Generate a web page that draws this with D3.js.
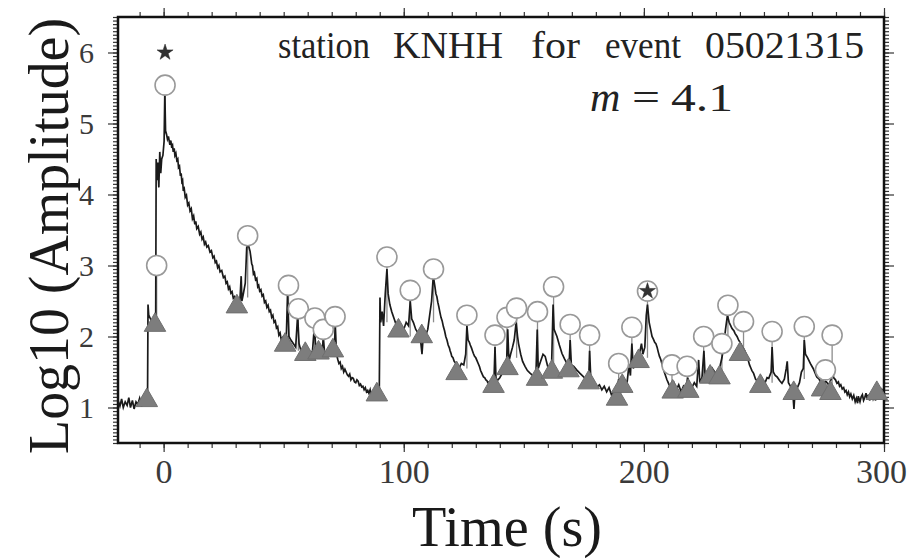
<!DOCTYPE html>
<html>
<head>
<meta charset="utf-8">
<script src="https://cdn.jsdelivr.net/npm/d3@7"></script>
<style>
  html, body { margin: 0; padding: 0; background: #fff; }
  svg { display: block; }
  text { font-family: "Liberation Serif", "Times New Roman", serif; }
</style>
</head>
<body>
<svg id="chart" width="909" height="558"></svg>
<script>
// ---------------- data ----------------
const xTicks = [0, 100, 200, 300];
const yTicks = [1, 2, 3, 4, 5, 6];

// envelope trace: [time (s), log10 amplitude]
const tracePts = [
  [-19,1.1],[-18.2,1.02],[-17.5,1.12],[-16.8,1.0],[-16,1.08],[-15.2,1.03],[-14.5,1.14],[-13.8,1.0],[-13,1.1],[-12.3,0.98],[-11.5,1.08],[-10.8,1.04],[-10,1.13],[-9.2,1.01],[-8.5,1.1],[-7.8,1.05],[-7,1.1],
  [-6.7,1.12],[-6.5,2.45],[-6.2,2.3],[-5.5,2.25],[-4.8,2.2],[-4.2,2.12],[-3.6,2.18],[-3.3,2.3],[-3.1,4.5],[-2.8,4.2],[-2.4,4.45],[-2,4.1],[-1.6,4.6],[-1.2,4.3],[-0.8,4.5],[-0.3,4.55],[0.2,4.75],[0.5,5.45],[0.8,4.9],
  [1.2,4.85],[1.6,4.78],[2,4.82],[2.6,4.7],[3,4.76],[3.3,4.68],[3.7,4.7],[4,4.6],[4.4,4.65],[4.7,4.55],[5.1,4.58],[5.5,4.48],[5.9,4.5],[6.2,4.38],[6.6,4.4],[7,4.26],[7.3,4.3],[7.6,4.18],[7.9,4.2],[8.2,4.05],[8.6,4.08],[9,3.96],[9.5,3.99],[10,3.85],[10.5,3.88],[11,3.77],[11.5,3.8],[12,3.66],[12.5,3.7],[13,3.58],[13.4,3.62],[13.8,3.52],[14.4,3.55],[15,3.44],[15.5,3.47],[16,3.37],[16.5,3.4],[17,3.3],[17.5,3.33],[18,3.26],[18.6,3.28],[19.3,3.19],[19.9,3.21],[20.5,3.11],[21,3.13],[21.5,3.04],[22,3.06],[22.5,2.97],[23,3.0],[23.5,2.91],[24.2,2.93],[24.9,2.83],[25.5,2.85],[26,2.75],[26.5,2.77],[27,2.67],[27.5,2.7],[28,2.61],[28.5,2.63],[29,2.54],[29.5,2.56],[30,2.49],[30.5,2.5],[31,2.45],
  [31.8,2.52],[32.3,2.85],[32.6,2.5],[33.2,2.6],[34,2.75],[34.6,3.25],[35.2,3.3],[36,3.2],[36.4,3.1],[36.7,3.02],[37,3.0],[37.4,2.88],[37.8,2.9],[38.3,2.8],[38.8,2.82],[39.2,2.7],[39.6,2.72],[40,2.64],[40.5,2.66],[41,2.57],[41.5,2.59],[42,2.48],[42.5,2.5],[43,2.41],[43.5,2.44],[44,2.35],[44.5,2.37],[45,2.27],[45.5,2.3],[46,2.2],[46.5,2.22],[47,2.12],[47.5,2.14],[48,2.02],[48.5,2.05],[49,1.95],[49.5,1.98],[50,1.9],[51,1.88],
  [51.6,2.6],[52.2,2.0],[53,1.95],[54,1.9],[55,1.85],[55.8,2.3],[56.4,1.9],[57,1.82],[58,1.75],[59,1.7],[60,1.78],[61,1.72],[62,1.8],[62.8,2.15],[63.4,1.8],[64,1.72],[65,1.8],[66,1.75],[66.5,2.0],[67,1.78],[68,1.72],[69,1.8],[70,1.74],[71,1.8],[71.5,2.15],
  [72,1.75],[72.5,1.68],[73,1.62],[73.5,1.64],[74,1.55],[74.5,1.58],[75,1.5],[75.5,1.54],[76,1.5],[76.5,1.46],[77,1.44],[77.5,1.47],[78,1.39],[78.5,1.42],[79,1.41],[79.5,1.36],[80,1.35],[80.5,1.39],[81,1.37],[81.5,1.31],[82,1.33],[82.5,1.29],[83,1.3],[83.5,1.25],[84,1.28],[84.5,1.22],[85,1.24],[85.5,1.2],[86,1.25],[86.5,1.17],[87,1.2],[87.5,1.15],[88,1.2],[88.5,1.14],[89,1.17],[89.8,1.16],
  [90.1,2.55],[90.4,2.2],[91,2.35],[91.6,2.15],[92.3,2.6],[93,2.95],[93.5,2.6],[94.2,2.45],[95,2.35],[96,2.25],[97,2.15],[98,2.08],[99,2.15],[100,2.1],[101,2.2],[102,2.15],[102.7,2.5],[103.3,2.25],[104,2.2],[105,2.1],[106,2.05],[107,1.95],[107.6,1.75],[108.2,2.05],[109,2.0],[110,2.1],[110.8,2.3],[111.6,2.5],[112.3,2.85],
  [113,2.7],[113.4,2.6],[113.8,2.56],[114.2,2.48],[114.6,2.42],[115,2.35],[115.5,2.27],[116,2.22],[116.5,2.14],[117,2.08],[117.5,2.0],[118,1.95],[118.5,1.88],[119,1.84],[119.3,1.8],[119.7,1.76],[120,1.72],[120.5,1.7],[121,1.65],[121.5,1.63],[122,1.6],[123,1.55],[124,1.62],[125,1.6],[125.8,1.75],[126.3,2.15],[126.8,1.95],[127.3,1.92],[127.7,1.88],[128.2,1.84],[128.6,1.8],[129,1.76],[129.5,1.72],[130,1.7],[130.5,1.66],[131,1.62],[131.5,1.58],[132,1.52],[132.4,1.49],[132.8,1.46],[133.2,1.43],[133.7,1.42],[134.2,1.39],[134.6,1.38],[135,1.35],[135.5,1.36],[136,1.33],[136.5,1.32],[137,1.3],
  [137.6,1.4],[138,1.85],[138.4,1.42],[139,1.38],[140,1.42],[141,1.48],[142,1.52],[142.8,1.6],[143.3,2.1],[143.8,1.65],[144.5,1.75],[145.3,1.85],[146,1.95],[146.8,2.2],[147.4,2.0],[147.8,1.9],[148.7,1.75],[149.5,1.65],[150.5,1.58],[151.5,1.52],[152.7,1.48],[153.8,1.45],[155,1.4],[155.6,2.1],[156,1.55],[157,1.65],[158,1.75],[158.9,1.72],[159.8,1.6],[160.5,1.52],[161.5,1.5],[162.2,2.45],[162.6,2.1],[163.2,2.05],[163.8,2.0],[164.8,1.88],[165.9,1.76],[167,1.68],[168,1.62],[168.8,1.55],[169.3,1.95],[169.8,1.6],[170.8,1.58],[172,1.53],[173.4,1.48],[174.9,1.43],[176,1.4],[177,1.36],[177.4,1.8],[177.9,1.4],[179,1.35],[180.5,1.29],[181.5,1.32],[182.5,1.25],[183.5,1.3],[184.5,1.22],[185.5,1.28],[186.5,1.18],[187.5,1.22],[188.5,1.12],[189.5,1.4],[190.2,1.2],[191,1.3],[192,1.38],[193,1.35],[193.8,1.6],[194.4,1.45],[195,1.9],[195.6,1.55],[196.5,1.65],[197.5,1.7],[198.3,1.78],[199,1.9],[199.6,1.75],[200.4,1.85],[201,2.3],[201.5,2.45],[202.2,2.2],
  [202.8,2.1],[203.4,2.0],[204,1.96],[204.5,1.92],[205,1.9],[205.5,1.85],[206,1.78],[206.5,1.72],[207,1.68],[207.5,1.62],[208,1.56],[208.5,1.5],[209,1.45],[209.6,1.39],[210,1.36],[210.5,1.32],
  [211.5,1.28],[212.5,1.35],[213.5,1.25],[214.5,1.32],[215.5,1.22],[216.5,1.3],[217.5,1.26],[218.3,1.42],[219,1.3],[220,1.28],[221,1.35],[222,1.3],[222.8,1.67],[223.3,1.35],[224.2,1.42],[225,1.8],[225.5,1.45],[226.5,1.5],[227.5,1.45],[228.5,1.55],[229.5,1.5],[230.5,1.48],[231.5,1.55],[232.5,1.7],[233.2,1.85],[234,2.1],[234.8,2.3],[235.5,2.2],
  [236.2,2.15],[236.6,2.12],[237,2.1],[237.5,2.08],[238,2.04],[238.4,2.02],[238.8,2.0],[239.2,1.97],[239.5,1.95],[240,1.92],[240.3,1.9],[240.7,1.88],[241,1.85],[241.5,1.83],[242,1.8],[242.5,1.76],[243,1.72],[243.5,1.66],[244,1.6],[244.5,1.56],[245,1.52],[245.7,1.48],[246.1,1.44],[246.5,1.4],[247,1.38],[247.5,1.36],[248,1.33],[248.5,1.32],
  [249.5,1.38],[250.5,1.35],[251.3,1.42],[252,1.41],[253,1.5],[253.4,1.85],[253.9,1.5],[254.7,1.45],[255.5,1.43],[256.5,1.38],[257.5,1.34],[258.5,1.4],[259.3,1.55],[259.7,1.65],[260.2,1.35],[261,1.3],[262,1.22],[262.5,0.98],[263,1.25],[263.8,1.27],[264.8,1.35],[265.6,1.5],[266.4,1.55],[266.8,1.95],[267.3,1.75],[268.2,1.7],[269.3,1.62],[270.5,1.55],[272,1.43],[273,1.4],[274,1.32],[275,1.36],[276,1.36],[277,1.32],[278,1.4],[278.5,1.55],[279,1.42],
  [279.8,1.39],[280.4,1.34],[281,1.36],[281.5,1.3],[282,1.32],[282.6,1.26],[283.2,1.28],[283.7,1.22],[284.2,1.24],[284.7,1.18],[285.2,1.22],[285.7,1.15],[286.2,1.19],[286.8,1.12],[287.4,1.17],[288,1.08],[288.5,1.13],[289,1.06],[289.3,1.16],[290,1.08],[290.5,1.15],[291,1.18],[291.5,1.1],[292,1.14],[292.5,1.2],[293,1.12],[293.5,1.18],[294,1.1],[294.5,1.16],[295,1.2],[295.5,1.12],[296,1.16],[296.5,1.1],[297,1.2],[297.6,1.14],[298,1.18],[298.6,1.12],[299.2,1.25],[300,1.2]
];

// picked onsets (triangles)
const onsetT = [-7,-3.6,30.5,50.6,59,64.5,70.5,88.8,97.8,107.5,122,137.4,143.2,155.5,161.7,168.6,177,188.8,191,197.8,212,218.5,227.6,231.5,240,248.5,262.4,274.2,277.7,297];
const onsetV = [1.1,2.16,2.42,1.88,1.75,1.77,1.8,1.18,2.08,2.0,1.48,1.3,1.55,1.4,1.5,1.52,1.35,1.12,1.3,1.65,1.22,1.23,1.43,1.42,1.75,1.3,1.2,1.25,1.2,1.2];

// picked peaks (circles) and the level their stems drop to
const peakT = [-2.9,0.6,35,52,56.1,63,66.5,71.4,93,102.7,112.4,126.3,138,143,147,155.7,162.4,169.3,177.4,189.5,195,201.5,211.7,218,224.9,232.5,235,241.5,253.4,266.8,275.6,278.4];
const peakV = [3.0,5.54,3.42,2.72,2.39,2.26,2.1,2.28,3.12,2.65,2.95,2.3,2.02,2.27,2.4,2.35,2.7,2.17,2.02,1.62,2.13,2.64,1.6,1.58,2.0,1.9,2.44,2.21,2.07,2.14,1.53,2.02];
const peakBase = [2.14,4.85,2.55,1.9,1.8,1.75,1.78,1.78,2.2,2.0,2.2,1.55,1.3,1.55,1.7,1.4,1.5,1.52,1.35,1.15,1.65,1.7,1.25,1.25,1.45,1.45,1.8,1.75,1.35,1.4,1.25,1.25];

// largest-event markers (stars)
const starT = [0.6, 201.5];
const starV = [6.0, 2.64];

// text
const titleWords = ["station", "KNHH", "for", "event", "05021315"];
const magLabel = ["m", "=", "4.1"];
const xLabel = "Time (s)";
const yLabel = "Log10 (Amplitude)";

// ---------------- drawing ----------------
const svg = d3.select("#chart");
const L = 118, R = 884, T = 17, B = 443;
const x = d3.scaleLinear().domain([-19, 300]).range([L, R]);
const y = d3.scaleLinear().domain([0.5, 6.5]).range([B, T]);

const xMinor = d3.range(-10, 301, 10);
const yMinor = d3.range(0.5, 6.5001, 0.05).map(v => +v.toFixed(2));

const tickCol = "#333";
function styleAxis(g) {
  g.select(".domain").remove();
  g.selectAll(".tick line").attr("stroke", tickCol).attr("stroke-width", 1.2);
}

// minor ticks
svg.append("g").attr("transform", `translate(0,${B})`)
  .call(d3.axisBottom(x).tickValues(xMinor).tickSize(5).tickFormat("")).call(styleAxis);
svg.append("g").attr("transform", `translate(0,${T})`)
  .call(d3.axisTop(x).tickValues(xMinor).tickSize(5).tickFormat("")).call(styleAxis);
svg.append("g").attr("transform", `translate(${L},0)`)
  .call(d3.axisLeft(y).tickValues(yMinor).tickSize(5).tickFormat("")).call(styleAxis);
svg.append("g").attr("transform", `translate(${R},0)`)
  .call(d3.axisRight(y).tickValues(yMinor).tickSize(5).tickFormat("")).call(styleAxis);

// major ticks + labels
const gx = svg.append("g").attr("transform", `translate(0,${B})`)
  .call(d3.axisBottom(x).tickValues(xTicks).tickSize(9).tickPadding(7).tickFormat(d3.format("d")))
  .call(styleAxis);
gx.selectAll("text").attr("font-size", 34).attr("fill", "#3a3a3a")
  .attr("font-family", "Liberation Serif");
gx.selectAll(".tick").filter(d => d === 300).select("text").attr("dx", -3);
svg.append("g").attr("transform", `translate(0,${T})`)
  .call(d3.axisTop(x).tickValues(xTicks).tickSize(9).tickFormat("")).call(styleAxis);
const gy = svg.append("g").attr("transform", `translate(${L},0)`)
  .call(d3.axisLeft(y).tickValues(yTicks).tickSize(10).tickPadding(14).tickFormat(d3.format("d")))
  .call(styleAxis);
gy.selectAll("text").attr("font-size", 30).attr("fill", "#3a3a3a")
  .attr("font-family", "Liberation Serif");
svg.append("g").attr("transform", `translate(${R},0)`)
  .call(d3.axisRight(y).tickValues(yTicks).tickSize(10).tickFormat("")).call(styleAxis);

// plot frame
svg.append("rect").attr("x", L).attr("y", T).attr("width", R - L).attr("height", B - T)
  .attr("fill", "none").attr("stroke", "#111").attr("stroke-width", 2.5);

const plot = svg.append("g");

// stems from peaks down to the trace
plot.selectAll("line.stem").data(peakT).join("line").attr("class", "stem")
  .attr("x1", d => x(d)).attr("x2", d => x(d))
  .attr("y1", (d, i) => y(peakV[i])).attr("y2", (d, i) => y(peakBase[i]))
  .attr("stroke", "#8c8c8c").attr("stroke-width", 1.3);

// trace
plot.append("path").datum(tracePts)
  .attr("d", d3.line().x(d => x(d[0])).y(d => y(d[1])))
  .attr("fill", "none").attr("stroke", "#1a1a1a").attr("stroke-width", 1.7)
  .attr("stroke-linejoin", "miter");

// onset triangles
plot.selectAll("path.tri").data(onsetT).join("path").attr("class", "tri")
  .attr("transform", (d, i) => `translate(${x(d)},${y(onsetV[i])})`)
  .attr("d", d3.symbol(d3.symbolTriangle, 200))
  .attr("fill", "#7d7d7d").attr("stroke", "#6f6f6f").attr("stroke-width", 1);

// peak circles
plot.selectAll("circle.pk").data(peakT).join("circle").attr("class", "pk")
  .attr("cx", d => x(d)).attr("cy", (d, i) => y(peakV[i])).attr("r", 10)
  .attr("fill", "#fff").attr("stroke", "#999").attr("stroke-width", 1.6);

// stars
plot.selectAll("path.star").data(starT).join("path").attr("class", "star")
  .attr("transform", (d, i) => `translate(${x(d)},${y(starV[i])})`)
  .attr("d", d3.symbol(d3.symbolStar, 80))
  .attr("fill", "#333").attr("stroke", "#222").attr("stroke-width", 0.5);

// title words
const wordX = [278, 393, 531, 605, 705];
const wordW = [92, 110, 49, 76, 159];
svg.append("g").selectAll("text").data(titleWords).join("text")
  .attr("x", (d, i) => wordX[i]).attr("y", 58)
  .attr("font-size", 37).attr("fill", "#222")
  .attr("textLength", (d, i) => wordW[i]).attr("lengthAdjust", "spacingAndGlyphs")
  .text(d => d);

// magnitude
svg.append("text").attr("x", 590).attr("y", 111).attr("font-size", 42).attr("fill", "#222")
  .attr("font-style", "italic").text(magLabel[0]);
svg.append("text").attr("x", 632).attr("y", 111).attr("font-size", 40).attr("fill", "#222")
  .attr("font-family", "Liberation Sans").attr("textLength", 28).attr("lengthAdjust", "spacingAndGlyphs")
  .text(magLabel[1]);
svg.append("text").attr("x", 671).attr("y", 111).attr("font-size", 40).attr("fill", "#222")
  .attr("font-family", "Liberation Sans").attr("textLength", 62).attr("lengthAdjust", "spacingAndGlyphs")
  .text(magLabel[2]);

// axis titles
svg.append("text").attr("x", 507).attr("y", 546).attr("text-anchor", "middle")
  .attr("font-size", 58).attr("fill", "#1a1a1a")
  .attr("textLength", 190).attr("lengthAdjust", "spacingAndGlyphs").text(xLabel);
svg.append("text").attr("transform", "translate(68,236) rotate(-90)").attr("text-anchor", "middle")
  .attr("font-size", 56).attr("fill", "#1a1a1a")
  .attr("textLength", 436).attr("lengthAdjust", "spacingAndGlyphs").text(yLabel);
</script>
</body>
</html>
